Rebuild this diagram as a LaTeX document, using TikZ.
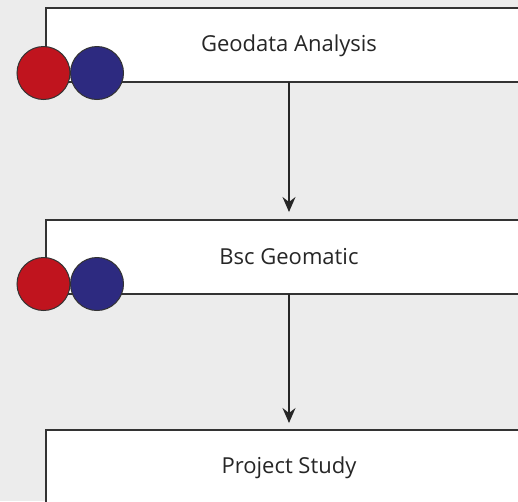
\documentclass[tikz,border=0pt]{standalone}
\usepackage{fontspec}
\setmainfont{Open Sans}
\usetikzlibrary{arrows.meta}
\definecolor{bg}{HTML}{ECECEC}
\definecolor{edge}{HTML}{333333}
\definecolor{dotred}{HTML}{C0141E}
\definecolor{dotblue}{HTML}{2D2A80}
\tikzset{
  x=1pt,y=-1pt,
  stage/.style={draw=edge,line width=2pt,fill=white},
  dot/.style={circle,draw=edge,line width=1pt,minimum size=53pt,inner sep=0pt},
  flow/.style={draw=black!85,line width=1.3pt,-{Stealth[length=15pt,width=13pt,inset=5pt]}},
  lbl/.style={font=\fontsize{22pt}{26pt}\selectfont,text=black!85}
}
\begin{document}
\begin{tikzpicture}
\useasboundingbox (0,0) rectangle (518,501);
\clip (0,0) rectangle (518,501);
\fill[bg] (0,0) rectangle (518,501);
% boxes
\draw[stage] (46,7.5) rectangle (540,81.5);
\draw[stage] (46,219.5) rectangle (540,293.5);
\draw[stage] (46,429.5) rectangle (540,540);
\node[lbl] (t1) at (289,46) {Geodata Analysis};
\node[lbl] (t2) at (289,257) {Bsc Geomatic};
\node[lbl] (t3) at (289,468) {Project Study};
\coordinate (b1) at (289,81.5);
\coordinate (a2) at (289,212);
\coordinate (b2) at (289,293.5);
\coordinate (a3) at (289,423);
\draw[flow] (b1) -- (a2);
\draw[flow] (b2) -- (a3);
% dots
\node[dot,fill=dotred] (r1) at (43.5,73) {};
\node[dot,fill=dotblue] (u1) at (97,73) {};
\node[dot,fill=dotred] (r2) at (43.5,284) {};
\node[dot,fill=dotblue] (u2) at (97,284) {};
\end{tikzpicture}
\end{document}
